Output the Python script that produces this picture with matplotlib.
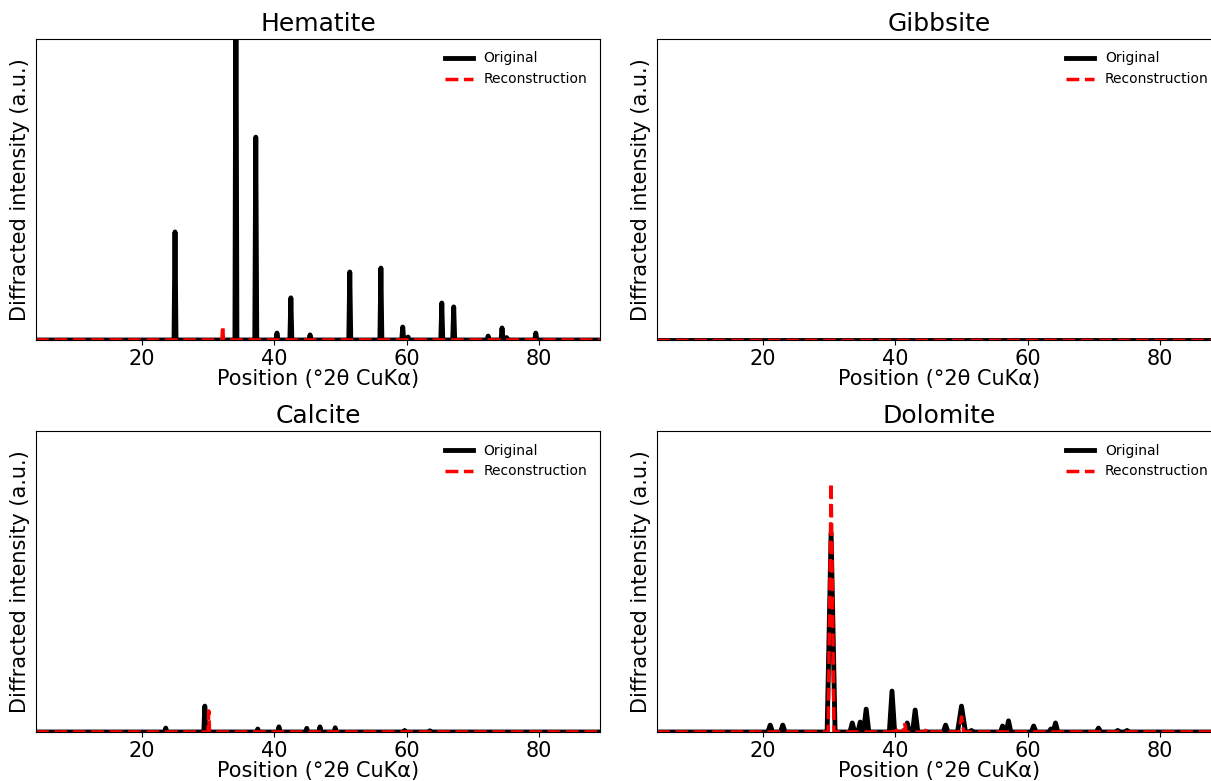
import numpy as np
import matplotlib
matplotlib.use("Agg")
import matplotlib.pyplot as plt
from matplotlib.ticker import MultipleLocator

# peak positions (deg 2theta) and normalised heights
hem_pos = [25.0, 34.2, 37.2, 40.4, 42.5, 45.4, 51.4, 56.1, 59.4, 60.2, 65.3, 67.1, 72.3, 74.4, 75.1, 79.5]
hem_orig = [0.359, 1.25, 0.674, 0.023, 0.14, 0.017, 0.226, 0.239, 0.043, 0.01, 0.123, 0.11, 0.013, 0.04, 0.008, 0.023]
hem_rpos = [32.2]
hem_recon = [0.047]

gib_pos = []
gib_orig = []
gib_rpos = []
gib_recon = []

cal_pos = [23.6, 29.5, 37.5, 40.7, 44.9, 46.9, 49.2, 59.7, 63.5]
cal_orig = [0.013, 0.086, 0.01, 0.017, 0.012, 0.017, 0.014, 0.005, 0.004]
cal_rpos = [30.1]
cal_recon = [0.07]

dol_pos = [21.1, 23.0, 30.3, 33.5, 34.7, 35.6, 39.5, 41.8, 43.0, 47.6, 50.0, 51.5, 56.2, 57.1, 60.9, 63.5, 64.2, 70.7, 73.6, 75.0]
dol_orig = [0.023, 0.023, 0.661, 0.03, 0.033, 0.076, 0.136, 0.03, 0.073, 0.023, 0.086, 0.005, 0.02, 0.037, 0.02, 0.01, 0.03, 0.013, 0.005, 0.005]
dol_width = [0.35, 0.35, 0.6, 0.35, 0.35, 0.4, 0.4, 0.3, 0.4, 0.35, 0.6, 0.3, 0.3, 0.35, 0.35, 0.3, 0.35, 0.35, 0.3, 0.3]
dol_rpos = [30.3, 40.0, 41.4, 44.7, 50.0]
dol_recon = [0.827, 0.017, 0.03, 0.01, 0.05]
dol_rwidth = [0.45, 0.25, 0.25, 0.2, 0.35]

x_start, x_end = 4, 90


def spectrum(pos, height, width=None, hw=0.15):
    # polyline through baseline and peak apexes
    xs = [x_start]
    ys = [0]
    for i in range(len(pos)):
        w = width[i] if width is not None else hw
        xs += [pos[i] - w, pos[i], pos[i] + w]
        ys += [0, height[i], 0]
    xs.append(x_end)
    ys.append(0)
    return xs, ys


panels = [
    ("Hematite", hem_pos, hem_orig, None, hem_rpos, hem_recon, None),
    ("Gibbsite", gib_pos, gib_orig, None, gib_rpos, gib_recon, None),
    ("Calcite", cal_pos, cal_orig, None, cal_rpos, cal_recon, None),
    ("Dolomite", dol_pos, dol_orig, dol_width, dol_rpos, dol_recon, dol_rwidth),
]

fig = plt.figure(figsize=(12.11, 7.81), dpi=100)
W, H = 1211, 781
boxes = [(36, 39), (657, 39), (36, 431), (657, 431)]
aw, ah = 564, 301

for (name, p, h, w, rp, rh, rw), (bx, by) in zip(panels, boxes):
    ax = fig.add_axes([bx / W, 1 - (by + ah) / H, aw / W, ah / H])
    x1, y1 = spectrum(p, h, w)
    x2, y2 = spectrum(rp, rh, rw, hw=0.12)
    ax.plot(x1, y1, color="black", lw=3.5, label="Original")
    ax.plot(x2, y2, color="red", lw=2.5, ls="--", label="Reconstruction")
    ax.set_xlim(4, 89.2)
    ax.set_ylim(0, 1)
    ax.set_yticks([])
    ax.xaxis.set_major_locator(MultipleLocator(20))
    ax.tick_params(axis="x", labelsize=15, pad=3)
    ax.set_title(name, fontsize=18)
    ax.set_xlabel("Position (°2θ CuKα)", fontsize=15, labelpad=0)
    ax.set_ylabel("Diffracted intensity (a.u.)", fontsize=15, labelpad=4)
    ax.legend(loc="upper right", frameon=False, fontsize=10)

fig.savefig("out.png", dpi=100)
